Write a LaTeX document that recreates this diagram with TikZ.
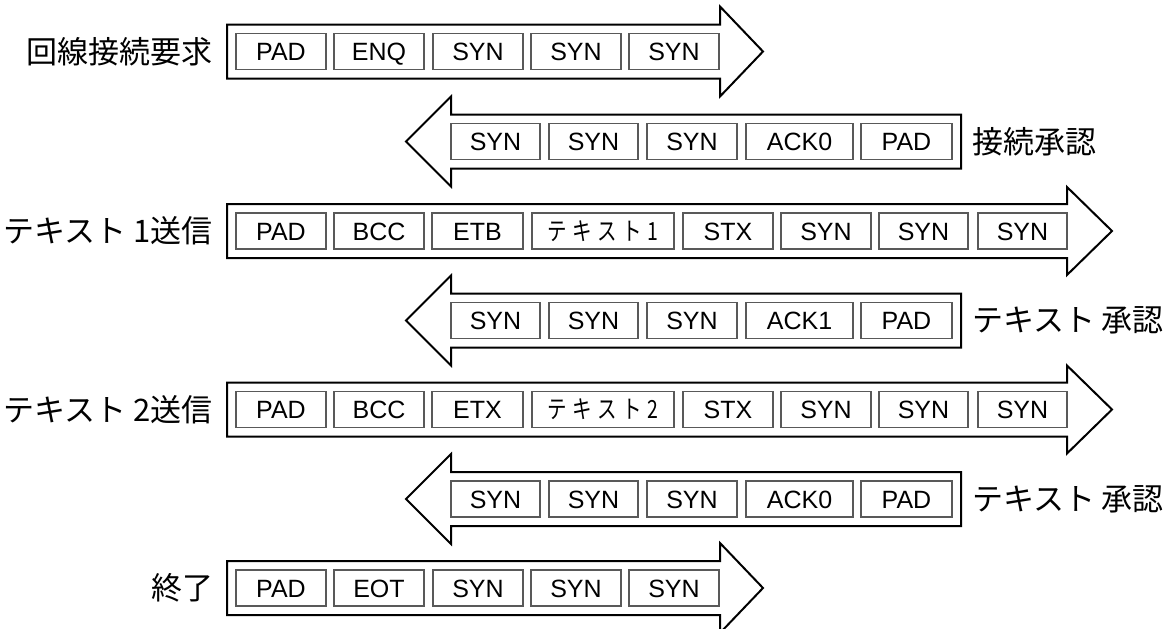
\documentclass[tikz,border=0pt]{standalone}
\usepackage{fontspec}
\setmainfont{Liberation Sans}
\newfontfamily\jp{Noto Sans CJK JP}
\newfontfamily\jpn[FakeStretch=0.78]{Noto Sans CJK JP}
\newcommand\KSp{\hspace{5.5pt}}
\newcommand\TxtOne{{\jpn\fontsize{25}{30}\selectfont テ\KSp キ\KSp ス\KSp ト\KSp 1}}
\newcommand\TxtTwo{{\jpn\fontsize{25}{30}\selectfont テ\KSp キ\KSp ス\KSp ト\KSp 2}}
\begin{document}
\begin{tikzpicture}[x=1pt,y=-1pt,
  arr/.style={draw=black, line width=2pt, fill=white, line join=miter},
  cell/.style={draw=black!65, line width=1.2pt, minimum height=36pt, inner sep=0pt, outer sep=0pt, anchor=west, text height=18pt, text depth=0pt, font=\fontsize{25}{30}\selectfont},
  lbl/.style={font=\jp\fontsize{31}{36}\selectfont, inner sep=0pt, outer sep=0pt}]
\useasboundingbox (0,0) rectangle (1168,629);

% right-pointing arrows
\foreach \c in {51.5,588} {
  \draw[arr] (227,\c-27) -- (720,\c-27) -- (720,\c-45) -- (763,\c) -- (720,\c+45) -- (720,\c+27) -- (227,\c+27) -- cycle;
}
\foreach \c in {231,409.5} {
  \draw[arr] (227,\c-27) -- (1067,\c-27) -- (1067,\c-44) -- (1112,\c) -- (1067,\c+44) -- (1067,\c+27) -- (227,\c+27) -- cycle;
}
% left-pointing arrows
\foreach \c in {141.5,320.5,499} {
  \draw[arr] (961,\c-27) -- (451,\c-27) -- (451,\c-45) -- (406,\c) -- (451,\c+45) -- (451,\c+27) -- (961,\c+27) -- cycle;
}

% row 1
\foreach \x/\w/\t [count=\i] in {236/90/PAD,334/90/ENQ,433/90/SYN,531/90/SYN,629/90/SYN}
  \node[cell, minimum width=\w pt] (a\i) at (\x,51.5) {\t};
\node[lbl, anchor=east] (la) at (213,51.5) {回線接続要求};

% row 2
\foreach \x/\w/\t [count=\i] in {451/89/SYN,549/89/SYN,647/90/SYN,746/107/ACK0,861/91/PAD}
  \node[cell, minimum width=\w pt] (b\i) at (\x,141.5) {\t};
\node[lbl, anchor=west] (lb) at (972,141.5) {接続承認};

% row 3
\foreach \x/\w/\t [count=\i] in {236/90/PAD,334/90/BCC,432/91/ETB,532/142/\TxtOne,683/90/STX,781/90/SYN,879/89/SYN,978/89/SYN}
  \node[cell, minimum width=\w pt] (c\i) at (\x,231) {\t};
\node[lbl, anchor=east] (lc) at (213,231) {テキスト 1送信};

% row 4
\foreach \x/\w/\t [count=\i] in {451/89/SYN,549/89/SYN,647/90/SYN,746/107/ACK1,861/91/PAD}
  \node[cell, minimum width=\w pt] (d\i) at (\x,320.5) {\t};
\node[lbl, anchor=west] (ld) at (972,320.5) {テキスト 承認};

% row 5
\foreach \x/\w/\t [count=\i] in {236/90/PAD,334/90/BCC,432/91/ETX,532/142/\TxtTwo,683/90/STX,781/90/SYN,879/89/SYN,978/89/SYN}
  \node[cell, minimum width=\w pt] (e\i) at (\x,409.5) {\t};
\node[lbl, anchor=east] (le) at (213,409.5) {テキスト 2送信};

% row 6
\foreach \x/\w/\t [count=\i] in {451/89/SYN,549/89/SYN,647/90/SYN,746/107/ACK0,861/91/PAD}
  \node[cell, minimum width=\w pt] (f\i) at (\x,499) {\t};
\node[lbl, anchor=west] (lf) at (972,499) {テキスト 承認};

% row 7
\foreach \x/\w/\t [count=\i] in {236/90/PAD,334/90/EOT,433/90/SYN,531/90/SYN,629/90/SYN}
  \node[cell, minimum width=\w pt] (g\i) at (\x,588) {\t};
\node[lbl, anchor=east] (lg) at (213,588) {終了};
\end{tikzpicture}
\end{document}
